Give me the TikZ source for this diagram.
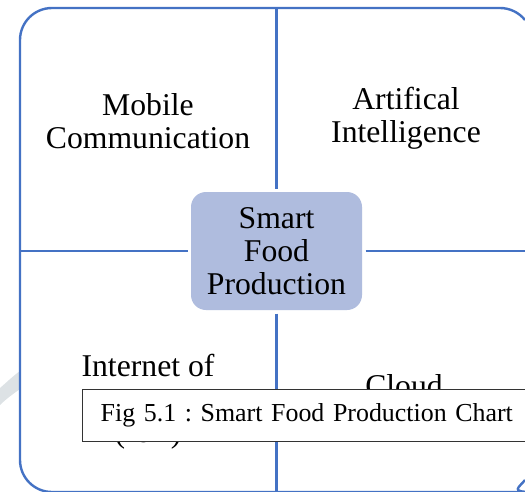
\documentclass[tikz,border=0pt]{standalone}
\usepackage{fontspec}
\setmainfont{Liberation Serif}
\usepackage{tikz}
\usetikzlibrary{positioning}
\definecolor{smartblue}{RGB}{68,114,196}
\definecolor{hubfill}{RGB}{175,188,222}
\definecolor{markgray}{RGB}{221,226,229}
\frenchspacing

\begin{document}
\begin{tikzpicture}[x=1pt,y=-1pt,
  every node/.style={align=center,font=\fontsize{31.7}{33}\selectfont},
  frame/.style={draw=smartblue,line width=2.4pt,fill=white},
  spoke/.style={draw=smartblue,line width=2.4pt},
  hub/.style={fill=hubfill,rounded corners=15pt,minimum width=171pt,minimum height=118pt,inner sep=0pt,outer sep=3.5pt},
  caption/.style={draw=black!80,line width=1.3pt,fill=white,anchor=north west,text width=480pt,align=left,inner xsep=18pt,minimum height=52pt,font=\fontsize{25.9}{30}\selectfont}]
  \useasboundingbox (0,0) rectangle (525,491);
  \clip (0,0) rectangle (525,491);
  \fill[markgray] (0,388) .. controls (7,382) and (13,376) .. (20,371) -- (20,389) .. controls (13,394) and (6,399) .. (0,405) -- cycle;
  \draw[frame] (525,20) .. controls (518.9,12.4) and (509.7,8) .. (500,8)
    [rounded corners=32pt] -- (20,8) -- (20,492) -- (500,492)
    [sharp corners] .. controls (509.7,492) and (518.9,487.6) .. (525,480);

  \node (hub) at (276.5,251)[hub]{Smart\\Food\\Production};
  \coordinate (n) at (276.5,8);
  \coordinate (s) at (276.5,492);
  \coordinate (w) at (20,251);
  \coordinate (e) at (525,251);
  \draw[spoke](hub)--(n);
  \draw[spoke](hub)--(s);
  \draw[spoke](hub)--(w);
  \draw[spoke](hub)--(e);

  \node (mobile) at (148,121){Mobile\\Communication};
  \node (ai) at (406,118){Artifical\\Intelligence};
  \node (iot) at (148,402){Internet of\\\phantom{Things}\\(IoT)};
  \node (cloud) at (404,396)[anchor=base]{Cloud};

  \node (cap) at (82,389)[caption]{Fig 5.1 : Smart Food Production Chart};
\end{tikzpicture}
\end{document}
